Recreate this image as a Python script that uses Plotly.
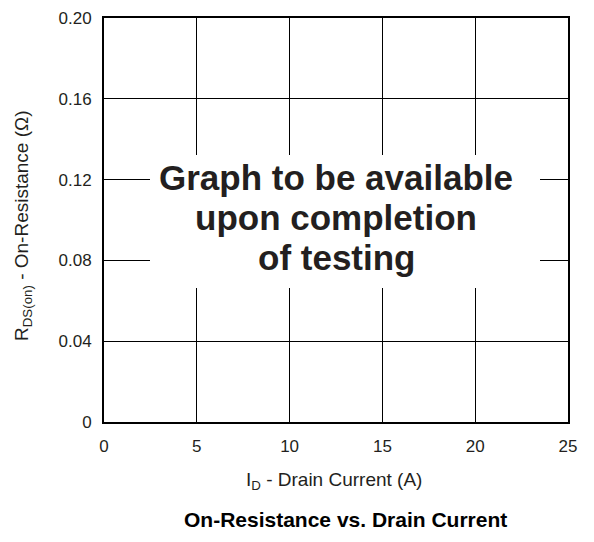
import plotly.graph_objects as go

# Axis definitions (no measured data: graph pending testing)
x_tick_vals = [0, 5, 10, 15, 20, 25]
x_tick_text = ["0", "5", "10", "15", "20", "25"]
y_tick_vals = [0, 0.04, 0.08, 0.12, 0.16, 0.20]
y_tick_text = ["0", "0.04", "0.08", "0.12", "0.16", "0.20"]
placeholder_lines = ["Graph to be available", "upon completion", "of testing"]
x_title = "I<sub>D</sub> - Drain Current (A)"
y_title = "R<sub>DS(on)</sub> - On-Resistance (Ω)"
chart_title = "<b>On-Resistance vs. Drain Current</b>"

BODY = 8  # default page body margin
W, H = 578, 526
# absolute (window) positions of the plot frame
L, R, T, B = 104, 568, 18, 422
PW, PH = R - L, B - T


def px(p):
    return (p - L) / PW


def py(p):
    return (B - p) / PH


TXT = "#231f20"
FONT = "Liberation Sans, Arial, Helvetica, sans-serif"

fig = go.Figure()
fig.add_trace(go.Scatter(x=[], y=[], mode="lines", showlegend=False))

axis_common = dict(
    showline=True, mirror=True, linecolor="black", linewidth=2,
    showgrid=True, gridcolor="black", gridwidth=1, automargin=False,
    zeroline=False, ticks="", tickfont=dict(family=FONT, size=17, color=TXT),
)
fig.update_xaxes(range=[0, 25], tickvals=x_tick_vals, ticktext=x_tick_text,
                 ticklabelstandoff=8, **axis_common)
fig.update_yaxes(range=[0, 0.20], tickvals=y_tick_vals, ticktext=y_tick_text,
                 ticklabelstandoff=7, **axis_common)

# white box behind the placeholder text
fig.add_shape(type="rect", xref="paper", yref="paper",
              x0=px(150), x1=px(540), y0=py(288), y1=py(155),
              fillcolor="white", line=dict(width=0), layer="above")

for txt, cy in zip(placeholder_lines, [177, 217, 257]):
    fig.add_annotation(text="<b>" + txt + "</b>", xref="paper", yref="paper",
                       x=px(336), y=py(cy), xanchor="center", yanchor="middle",
                       showarrow=False, font=dict(family=FONT, size=35, color=TXT))

fig.add_annotation(text=x_title, xref="paper", yref="paper",
                   x=px(334), y=py(481), xanchor="center", yanchor="middle",
                   showarrow=False, font=dict(family=FONT, size=19, color=TXT))
fig.add_annotation(text=y_title, xref="paper", yref="paper", textangle=-90,
                   x=px(23), y=py(226), xanchor="center", yanchor="middle",
                   showarrow=False, font=dict(family=FONT, size=19, color=TXT))
fig.add_annotation(text=chart_title, xref="paper", yref="paper",
                   x=px(345), y=py(519), xanchor="center", yanchor="middle",
                   showarrow=False, font=dict(family=FONT, size=21, color="black"))

fig.update_layout(
    width=W, height=H,
    margin=dict(l=L - BODY, r=(W + BODY) - R, t=T - BODY, b=(H + BODY) - B,
                pad=0, autoexpand=False),
    paper_bgcolor="white", plot_bgcolor="white",
    showlegend=False,
)

fig.write_html("out.html")
